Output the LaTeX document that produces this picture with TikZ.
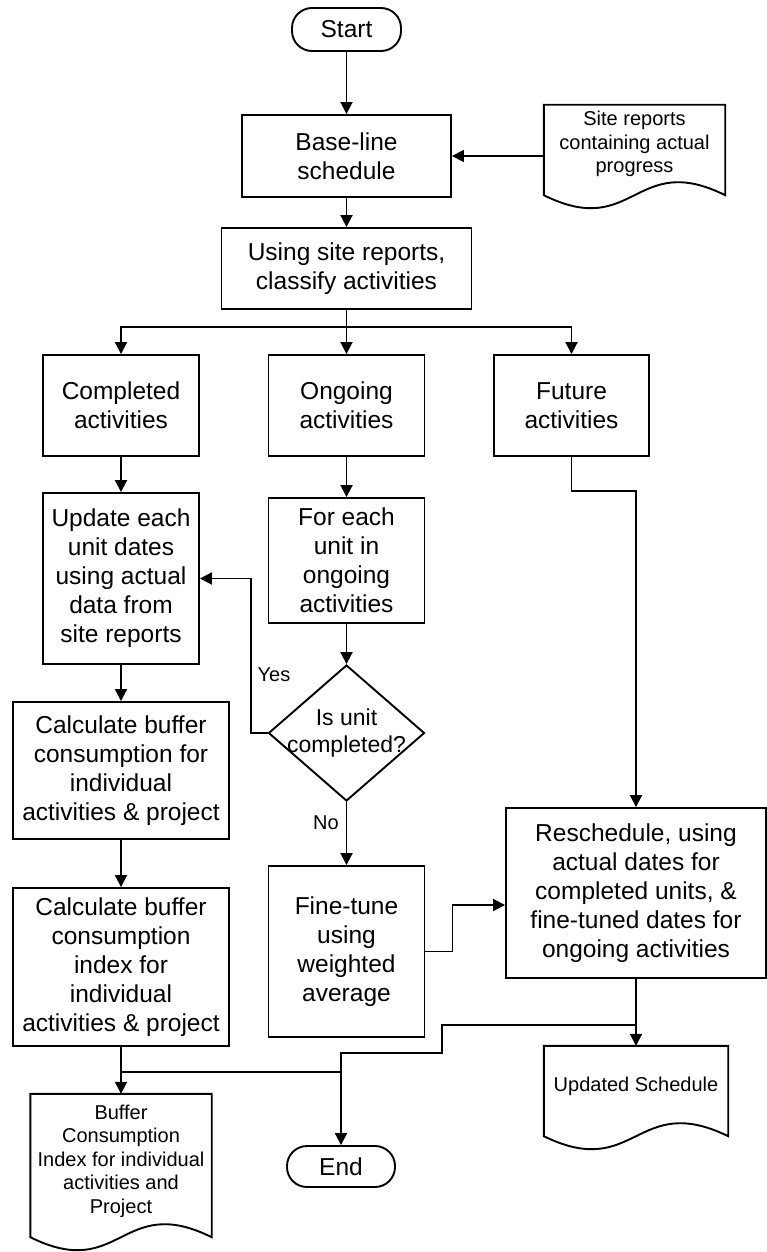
\documentclass[tikz,border=0pt]{standalone}
\usepackage{fontspec}
\setmainfont{Liberation Sans}
\usetikzlibrary{shapes.geometric,arrows.meta,calc}

\tikzset{
  x=1pt, y=-1pt,
  every node/.style={font=\fontsize{24.5}{29}\selectfont, align=center, inner sep=0pt},
  box/.style={draw, line width=1.9pt, rectangle},
  term/.style={draw, line width=1.9pt, rectangle, rounded corners=20pt},
  doc/.style={rectangle, font=\fontsize{20}{23.5}\selectfont},
  decision/.style={diamond, draw, line width=1.9pt, minimum width=156pt, minimum height=136pt,
    inner xsep=-40pt, inner ysep=-20pt, font=\fontsize{23}{27}\selectfont},
  arr/.style={line width=1.9pt, -{Triangle[length=12pt,width=12pt]}},
  link/.style={line width=1.9pt},
  lbl/.style={font=\fontsize{20}{24}\selectfont},
}

% document symbol: straight top and sides, wavy bottom
\newcommand\docoutline[2]{%
  \draw[link] ($(#1.south west)+(0,#2)$) -- (#1.north west) -- (#1.north east)
    -- ($(#1.south east)+(0,#2)$)
    .. controls ($(#1.south)+(0,#2-45)$) and ($(#1.south)+(0,#2+45)$) .. ($(#1.south west)+(0,#2)$)
    -- cycle;}

\begin{document}
\begin{tikzpicture}
\fill[white] (0,0) rectangle (767,1252);
\useasboundingbox (0,0) rectangle (767,1252);

% terminals
\node[term, minimum width=109pt, minimum height=43pt] (start) at (346.5,29.5) {Start};
\node[term, minimum width=108pt, minimum height=41pt] (end) at (341,1166.5) {End};

% process boxes
\node[box, minimum width=209pt, minimum height=82pt] (baseline) at (346.5,156) {Base-line\\schedule};
\node[box, minimum width=250pt, minimum height=81pt] (using) at (346.5,268.5) {Using site reports,\\classify activities};
\node[box, minimum width=156pt, minimum height=101pt] (completed) at (121,405.5) {Completed\\activities};
\node[box, minimum width=156pt, minimum height=101pt] (ongoing) at (346.5,405.5) {Ongoing\\activities};
\node[box, minimum width=155pt, minimum height=101pt] (future) at (571.5,405.5) {Future\\activities};
\node[box, minimum width=156pt, minimum height=171pt] (update) at (121,578.5)
  {Update each\\unit dates\\using actual\\data from\\site reports};
\node[box, minimum width=156pt, minimum height=125pt] (foreach) at (346.5,560.5)
  {For each\\unit in\\ongoing\\activities};
\node[decision] (dec) at (346.5,733) {Is unit\\completed?};
\node[box, minimum width=156pt, minimum height=171pt] (finetune) at (346.5,951.5)
  {Fine-tune\\using\\weighted\\average};
\node[box, minimum width=216pt, minimum height=137pt] (calcbuf) at (121,770.5)
  {Calculate buffer\\consumption for\\individual\\activities \& project};
\node[box, minimum width=216pt, minimum height=158pt] (calcidx) at (121,967)
  {Calculate buffer\\consumption\\index for\\individual\\activities \& project};
\node[box, minimum width=260pt, minimum height=170pt] (resched) at (636,893)
  {Reschedule, using\\actual dates for\\completed units, \&\\fine-tuned dates for\\ongoing activities};

% documents
\node[doc, minimum width=181pt, minimum height=78pt] (site) at (634.5,144)
  {Site reports\\containing actual\\progress};
\docoutline{site}{12}
\node[doc, minimum width=181pt, minimum height=134pt] (bufdoc) at (121,1161)
  {Buffer\\Consumption\\Index for individual\\activities and\\Project};
\docoutline{bufdoc}{9}
\node[doc, minimum width=184pt, minimum height=80pt] (upddoc) at (636,1086)
  {Updated Schedule};
\docoutline{upddoc}{10}

% connectors
\draw[arr] (start) -- (baseline);
\draw[arr] (site.west |- baseline.east) -- (baseline.east);
\draw[arr] (baseline) -- (using);
\coordinate (br) at ($(using.south)+(0,17)$);
\draw[arr] (using.south) -- (ongoing.north);
\draw[arr] (br) -| (completed.north);
\draw[arr] (br) -| (future.north);
\draw[arr] (completed) -- (update);
\draw[arr] (ongoing) -- (foreach);
\draw[arr] (foreach.south) -- (dec.north);
\draw[arr] (dec.west) -- ++(-17,0) |- (update.east);
\node[lbl] (yes) at (274,675) {Yes};
\draw[arr] (dec.south) -- (finetune.north);
\node[lbl] (no) at (326,823) {No};
\draw[arr] (future.south) -- ++(0,34) -| (resched.north);
\draw[arr] (finetune.east) -- ++(27,0) |- ($(resched.west)+(0,12)$);
\draw[arr] (update) -- (calcbuf);
\draw[arr] (calcbuf) -- (calcidx);
\draw[arr] (calcidx.south) -- (bufdoc.north);
\draw[arr] (resched.south) -- (upddoc.north);
\coordinate (jr) at ($(resched.south)+(0,46)$);
\coordinate (jm) at (442,1053);
\draw[arr] (jr) -| (jm) -| (end.north);
\coordinate (jl) at ($(calcidx.south)+(0,25)$);
\draw[link] (jl) -- (jl -| end.north);
\end{tikzpicture}
\end{document}
